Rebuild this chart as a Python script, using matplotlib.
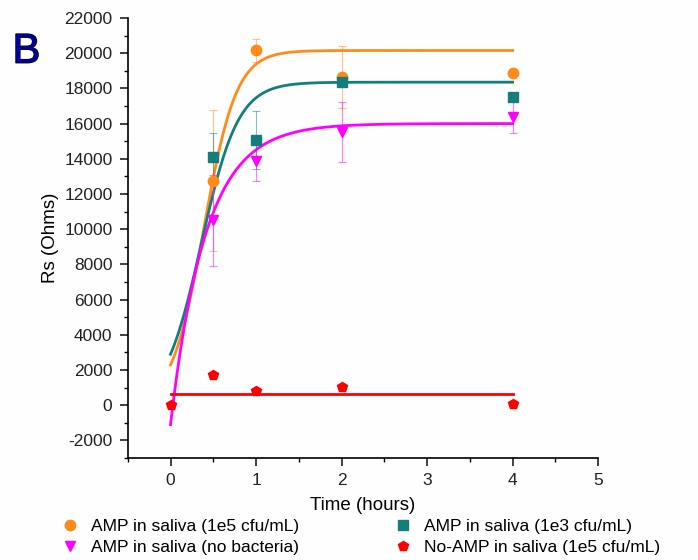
import numpy as np
import matplotlib.pyplot as plt
from matplotlib.lines import Line2D
import matplotlib.patheffects as pe

plt.rcParams['font.family'] = ['Liberation Sans', 'DejaVu Sans']
plt.rcParams['axes.unicode_minus'] = False

# measured points (time in hours, Rs in Ohms)
t = [0, 0.5, 1, 2, 4]
amp_1e5 = [np.nan, 12750, 20150, 18650, 18850]
amp_1e5_err = [0, 4000, 650, 1750, 150]
amp_1e3 = [np.nan, 14100, 15050, 18350, 17500]
amp_1e3_err = [0, 1350, 1650, 200, 150]
amp_nobac = [np.nan, 10500, 13850, 15500, 16400]
amp_nobac_err = [0, 2600, 1100, 1700, 950]
noamp_1e5 = [0, 1700, 800, 1050, 50]
noamp_1e5_err = [0, 0, 0, 0, 0]

# fit parameters (sigmoid / exponential rise)
fit_1e5 = dict(A1=0, A2=20150, x0=0.39, dx=0.19)
fit_1e3 = dict(A1=0, A2=18350, x0=0.36, dx=0.215)
fit_nobac = dict(A=16000, B=17100, tau=0.41)
fit_noamp = 650

c_orange = '#FF8C1A'
c_teal = '#147F7A'
c_pink = '#FF00FF'
c_red = '#FF0000'

def boltz(x, A1, A2, x0, dx):
    return A1 + (A2 - A1) / (1 + np.exp(-(x - x0) / dx))

tt = np.linspace(0, 4, 300)

fig = plt.figure(figsize=(6.98, 5.6), dpi=100)
fig.patch.set_facecolor('#fefefe')
ax = fig.add_axes([0.183, 0.182, 0.674, 0.786])
ax.set_facecolor('#fefefe')

ax.plot(tt, boltz(tt, **fit_1e5), color=c_orange, lw=2, zorder=2)
ax.plot(tt, boltz(tt, **fit_1e3), color=c_teal, lw=2, zorder=2)
ax.plot(tt, fit_nobac['A'] - fit_nobac['B'] * np.exp(-tt / fit_nobac['tau']), color=c_pink, lw=2, zorder=2)
ax.plot([0, 4], [fit_noamp, fit_noamp], color=c_red, lw=2, zorder=2)

series = [
    (amp_1e5, amp_1e5_err, c_orange, 'o', 'AMP in saliva (1e5 cfu/mL)'),
    (amp_1e3, amp_1e3_err, c_teal, 's', 'AMP in saliva (1e3 cfu/mL)'),
    (amp_nobac, amp_nobac_err, c_pink, 'v', 'AMP in saliva (no bacteria)'),
    (noamp_1e5, noamp_1e5_err, c_red, 'p', 'No-AMP in saliva (1e5 cfu/mL)'),
]
handles = []
for y, e, c, m, lab in series:
    ax.errorbar(t, y, yerr=e, fmt='none', ecolor=c, elinewidth=0.8, capsize=3, capthick=0.8, alpha=0.5, zorder=3)
    ax.plot(t, y, ls='none', marker=m, color=c, markersize=7.5, zorder=4)
    handles.append(Line2D([], [], ls='none', marker=m, color=c, markersize=7.5, label=lab))

ax.set_xlim(-0.5, 5)
ax.set_ylim(-3000, 22000)
ax.set_xticks([0, 1, 2, 3, 4, 5])
ax.set_xticks(np.arange(-0.5, 5.01, 0.5), minor=True)
ax.set_yticks(np.arange(-2000, 22001, 2000))
ax.set_yticks(np.arange(-3000, 22001, 1000), minor=True)
ax.spines['top'].set_visible(False)
ax.spines['right'].set_visible(False)
ax.tick_params(axis='both', which='major', length=6, width=1.2, labelsize=12.5, colors='#222222', pad=5)
ax.tick_params(axis='both', which='minor', length=3, width=1.0)
for s in ['left', 'bottom']:
    ax.spines[s].set_linewidth(1.2)
ax.set_xlabel('Time (hours)', fontsize=13.5, labelpad=6)
ax.set_ylabel('Rs (Ohms)', fontsize=13.5, labelpad=4)

order = [0, 2, 1, 3]
fig.legend([handles[i] for i in order], [handles[i].get_label() for i in order],
           ncol=2, loc='upper left', bbox_to_anchor=(0.085, 0.074), frameon=False,
           fontsize=12.5, handletextpad=0.6, columnspacing=5.4, labelspacing=0.35,
           handlelength=1.2, borderaxespad=0, borderpad=0)

fig.text(0.018, 0.888, 'B', fontsize=30, color='#0000A0',
         path_effects=[pe.withStroke(linewidth=1.0, foreground='black')])

fig.savefig('out.png', dpi=100, facecolor=fig.get_facecolor())
